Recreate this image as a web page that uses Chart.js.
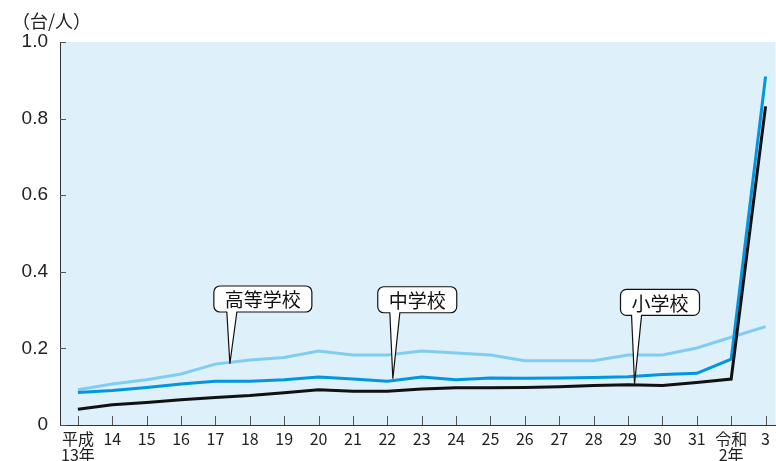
<!DOCTYPE html>
<html><head><meta charset="utf-8">
<script src="https://cdn.jsdelivr.net/npm/chart.js@4/dist/chart.umd.min.js"></script>
<style>
html,body{margin:0;padding:0;background:#fff;}
#wrap{position:relative;width:776px;height:461px;}
#unit{position:absolute;left:12px;top:7px;font:18px "Noto Sans CJK JP",sans-serif;color:#222;}
</style></head><body>
<div id="wrap"><div id="unit">（台/人）</div><canvas id="c" width="776" height="461"></canvas></div>
<script>
const categories = ['平成\n13年','14','15','16','17','18','19','20','21','22','23','24','25','26','27','28','29','30','31','令和\n2年','3'];
const highSchool = [0.092,0.107,0.118,0.133,0.159,0.170,0.176,0.193,0.183,0.183,0.193,0.188,0.183,0.168,0.168,0.168,0.183,0.183,0.201,0.229,0.257];
const juniorHigh = [0.085,0.090,0.098,0.107,0.114,0.114,0.118,0.125,0.120,0.114,0.125,0.118,0.123,0.122,0.123,0.124,0.126,0.132,0.135,0.172,0.910];
const elementary = [0.041,0.053,0.059,0.066,0.072,0.077,0.084,0.092,0.088,0.088,0.094,0.097,0.097,0.098,0.100,0.103,0.105,0.103,0.111,0.120,0.832];
const yTickValues = [0,0.2,0.4,0.6,0.8,1.0];
const seriesNames = ['小学校','中学校','高等学校'];

// callout anchors in data units: [label, tipX, tipY, boxX, boxY]
const callouts = [
  ['高等学校', 4.42, 0.160, 5.38, 0.329],
  ['中学校', 9.16, 0.121, 9.87, 0.327],
  ['小学校', 16.19, 0.108, 16.93, 0.320]
];

const toPts = arr => arr.map((v,i)=>({x:i,y:v}));

const bgPlugin = {
  id:'bg',
  beforeDraw(chart){
    const {ctx, chartArea:a} = chart;
    ctx.save();
    ctx.fillStyle = '#def0fa';
    ctx.fillRect(a.left, a.top, a.right-a.left, a.bottom-a.top);
    ctx.restore();
  },
  beforeDatasetsDraw(chart){
    const {ctx, chartArea:a, scales} = chart;
    ctx.save();
    ctx.strokeStyle = '#555';
    ctx.lineWidth = 1;
    categories.forEach((c,i)=>{
      const x = Math.round(scales.x.getPixelForValue(i))+0.5;
      ctx.beginPath(); ctx.moveTo(x,a.bottom); ctx.lineTo(x,a.bottom-9); ctx.stroke();
    });
    yTickValues.forEach(v=>{
      const y = Math.round(scales.y.getPixelForValue(v))+0.5;
      ctx.beginPath(); ctx.moveTo(a.left,y); ctx.lineTo(a.left+6,y); ctx.stroke();
    });
    ctx.restore();
  },
  afterDatasetsDraw(chart){
    const {ctx, scales} = chart;
    ctx.save();
    ctx.font = '19px "Noto Sans CJK JP", sans-serif';
    callouts.forEach(([t,tx,ty,bx,by])=>{
      const tipX = scales.x.getPixelForValue(tx), tipY = scales.y.getPixelForValue(ty);
      const cx = scales.x.getPixelForValue(bx), cy = scales.y.getPixelForValue(by);
      const w = ctx.measureText(t).width + 22, h = 26, r = 6;
      const l = cx - w/2, rt = cx + w/2, tp = cy - h/2, b = cy + h/2;
      const baseL = tipX - 3, baseR = tipX + 7;
      ctx.beginPath();
      ctx.moveTo(l+r,tp);
      ctx.lineTo(rt-r,tp); ctx.arcTo(rt,tp,rt,tp+r,r);
      ctx.lineTo(rt,b-r); ctx.arcTo(rt,b,rt-r,b,r);
      ctx.lineTo(baseR,b); ctx.lineTo(tipX,tipY); ctx.lineTo(baseL,b);
      ctx.lineTo(l+r,b); ctx.arcTo(l,b,l,b-r,r);
      ctx.lineTo(l,tp+r); ctx.arcTo(l,tp,l+r,tp,r);
      ctx.closePath();
      ctx.fillStyle = '#fff'; ctx.fill();
      ctx.strokeStyle = '#111'; ctx.lineWidth = 1.2; ctx.stroke();
      ctx.fillStyle = '#111'; ctx.textAlign = 'center'; ctx.textBaseline = 'middle';
      ctx.fillText(t, cx, cy+1);
    });
    ctx.restore();
  }
};

new Chart(document.getElementById('c'), {
  type:'line',
  data:{
    datasets:[
      {label:seriesNames[0], data:toPts(elementary), borderColor:'#111111', borderWidth:3},
      {label:seriesNames[1], data:toPts(juniorHigh), borderColor:'#0096e0', borderWidth:3},
      {label:seriesNames[2], data:toPts(highSchool), borderColor:'#80cdf4', borderWidth:3}
    ]
  },
  options:{
    responsive:false, devicePixelRatio:1, animation:false,
    elements:{point:{radius:0}, line:{tension:0}},
    layout:{padding:{top:42,left:0,right:0,bottom:0}},
    plugins:{legend:{display:false}, tooltip:{enabled:false}},
    scales:{
      x:{
        type:'linear', min:-0.52, max:20.29,
        afterFit(s){ s.height = 36; },
        afterBuildTicks(s){ s.ticks = categories.map((c,i)=>({value:i})); },
        grid:{display:false, drawTicks:false},
        border:{display:true, color:'#333', width:1},
        ticks:{
          autoSkip:false, maxRotation:0, padding:6, color:'#222',
          font:{family:'"Liberation Sans Narrow","Noto Sans CJK JP",sans-serif', size:16, lineHeight:1.0},
          callback:(v)=>{ const c = categories[v]; return c===undefined ? '' : c.split('\n'); }
        }
      },
      y:{
        min:0, max:1.0,
        afterFit(s){ s.width = 60; },
        afterBuildTicks(s){ s.ticks = yTickValues.map(v=>({value:v})); },
        grid:{display:false, drawTicks:false},
        border:{display:true, color:'#333', width:1},
        ticks:{
          padding:12, color:'#222',
          font:{family:'"Liberation Sans",sans-serif', size:19},
          callback:(v)=> v===0 ? '0' : v.toFixed(1)
        }
      }
    }
  },
  plugins:[bgPlugin]
});
</script>
</body></html>
